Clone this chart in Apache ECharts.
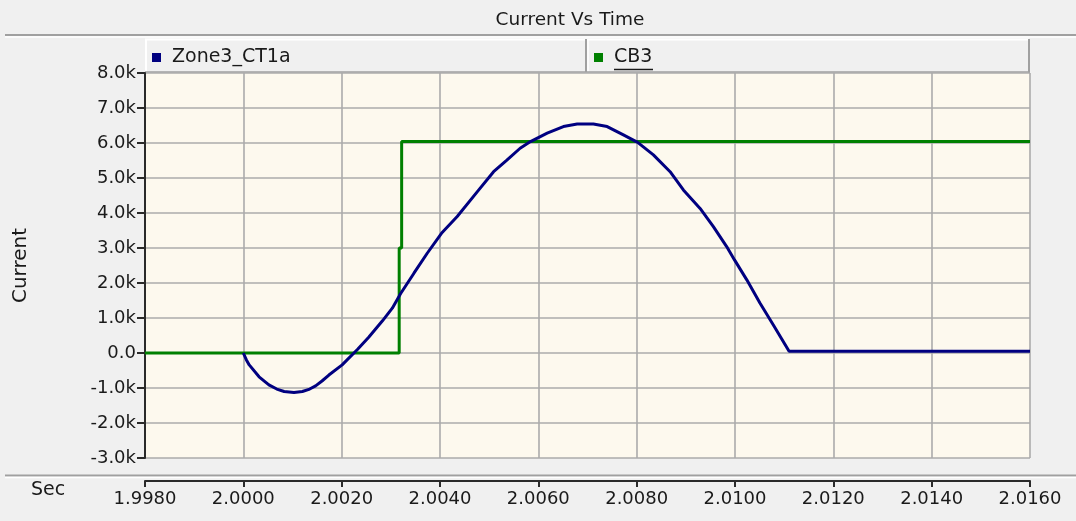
<!DOCTYPE html>
<html>
<head>
<meta charset="utf-8">
<title>Current Vs Time</title>
<script src="https://cdn.jsdelivr.net/npm/echarts@6/dist/echarts.min.js"></script>
<style>
  html, body { margin: 0; padding: 0; background: #F0F0F0; }
  #chart { width: 1076px; height: 521px; }
</style>
</head>
<body>
<div id="chart"></div>
<script>
// Zone3_CT1a current trace (seconds, amps)
const zoneTime = [
  2.0000, 2.00006, 2.00012, 2.00032, 2.00052, 2.00068, 2.00083, 2.00103, 2.0012, 2.00135,
  2.00147, 2.0016, 2.00174, 2.00201, 2.00232, 2.00255, 2.00283, 2.00303, 2.0032, 2.00347,
  2.00374, 2.00403, 2.00435, 2.00476, 2.00509, 2.00536, 2.00563, 2.00584, 2.00618, 2.00651,
  2.00679, 2.00712, 2.0074, 2.00773, 2.00802, 2.00834, 2.00868, 2.00895, 2.00929, 2.00956,
  2.00983, 2.00999, 2.01024, 2.01051, 2.01078, 2.0111, 2.0160
];
const zoneCurrent = [
  0, -190, -340, -680, -910, -1030, -1100, -1130, -1100, -1030,
  -940, -800, -630, -340, 100, 450, 920, 1280, 1700, 2280,
  2850, 3420, 3900, 4610, 5180, 5510, 5850, 6040, 6280, 6470,
  6540, 6540, 6470, 6230, 6020, 5660, 5180, 4660, 4130, 3610,
  3040, 2660, 2090, 1420, 800, 50, 50
];

// CB3 breaker status trace (seconds, value)
const cbTime = [1.9980, 2.00317, 2.00317, 2.00322, 2.00322, 2.0160];
const cbCurrent = [0, 0, 3000, 3000, 6040, 6040];

// Axis ranges and labels
const timeMin = 1.9980, timeMax = 2.0160, timeStep = 0.002;
const currentMin = -3000, currentMax = 8000, currentStep = 1000;
const chartTitle = 'Current Vs Time';
const seriesNames = ['Zone3_CT1a', 'CB3'];
const yAxisName = 'Current';
const xAxisName = 'Sec';

const zip = (xs, ys) => xs.map((x, i) => [x, ys[i]]);

const FONT = 'DejaVu Sans';
const TEXT = '#1a1a1a';
const ETCH_DARK = '#A0A0A0';
const ETCH_LIGHT = '#FFFFFF';

function hLine(x1, x2, y, color, w) {
  return { type: 'line', silent: true, shape: { x1, y1: y, x2, y2: y }, style: { stroke: color, lineWidth: w } };
}
function vLine(x, y1, y2, color, w) {
  return { type: 'line', silent: true, shape: { x1: x, y1, x2: x, y2 }, style: { stroke: color, lineWidth: w } };
}

const chart = echarts.init(document.getElementById('chart'), null, { renderer: 'canvas' });

chart.setOption({
  backgroundColor: '#F0F0F0',
  animation: false,
  title: {
    text: chartTitle,
    left: 565,
    top: 6,
    textAlign: 'center',
    textStyle: { fontFamily: FONT, fontSize: 18.5, fontWeight: 'normal', color: TEXT }
  },
  legend: [
    {
      data: [seriesNames[0]],
      left: 152, top: 48, padding: 0,
      icon: 'rect', itemWidth: 9, itemHeight: 9,
      selectedMode: false,
      textStyle: { fontFamily: FONT, fontSize: 19, color: TEXT, padding: [0, 0, 0, 6] }
    },
    {
      data: [seriesNames[1]],
      left: 594, top: 48, padding: 0,
      icon: 'rect', itemWidth: 9, itemHeight: 9,
      selectedMode: false,
      textStyle: { fontFamily: FONT, fontSize: 19, color: TEXT, padding: [0, 0, 0, 6] }
    }
  ],
  grid: {
    left: 145, right: 46, top: 73, bottom: 63,
    show: true, backgroundColor: '#FDF9EE', borderWidth: 0
  },
  xAxis: {
    type: 'value',
    min: timeMin, max: timeMax, interval: timeStep,
    offset: 23,
    axisLine: { show: true, onZero: false, lineStyle: { color: '#2a2a2a', width: 2 } },
    axisTick: { show: true, length: 6, lineStyle: { color: '#2a2a2a', width: 2 } },
    axisLabel: {
      margin: 9,
      fontFamily: FONT, fontSize: 18, color: TEXT,
      formatter: v => v.toFixed(4)
    },
    splitLine: { show: true, lineStyle: { color: '#ABABAB', width: 1.6 } }
  },
  yAxis: {
    type: 'value',
    min: currentMin, max: currentMax, interval: currentStep,
    name: yAxisName,
    nameLocation: 'middle',
    nameRotate: 90,
    nameGap: 114,
    nameTextStyle: { fontFamily: FONT, fontSize: 20, color: TEXT },
    axisLine: { show: true, onZero: false, lineStyle: { color: '#2a2a2a', width: 2 } },
    axisTick: { show: true, length: 8, lineStyle: { color: '#2a2a2a', width: 2 } },
    axisLabel: {
      margin: 9,
      fontFamily: FONT, fontSize: 18, color: TEXT,
      formatter: v => v === 0 ? '0.0' : (v / 1000).toFixed(1) + 'k'
    },
    splitLine: { show: true, lineStyle: { color: '#ABABAB', width: 1.6 } }
  },
  graphic: [
    // etched separator under the title band
    hLine(5, 1076, 35, ETCH_DARK, 2),
    hLine(5, 1076, 37, ETCH_LIGHT, 1.5),
    // legend cells
    hLine(145, 1029, 39.5, ETCH_LIGHT, 2),
    vLine(146, 39, 72, ETCH_LIGHT, 2),
    vLine(586, 39, 72, ETCH_DARK, 2),
    vLine(588, 39, 72, ETCH_LIGHT, 1.5),
    vLine(1029, 39, 73, ETCH_DARK, 2),
    hLine(145, 1030, 72, ETCH_DARK, 1.5),
    // underline on the CB3 legend entry
    hLine(614, 653, 69.5, '#1a1a1a', 1.5),
    // etched separator above the time axis band
    hLine(5, 1076, 475.5, ETCH_DARK, 2),
    hLine(5, 1076, 477.5, ETCH_LIGHT, 1.5),
    // time axis unit
    {
      type: 'text', silent: true,
      left: 31, top: 481,
      style: { text: xAxisName, fontFamily: FONT, fontSize: 19, fill: TEXT }
    }
  ],
  series: [
    {
      name: seriesNames[1],
      type: 'line',
      data: zip(cbTime, cbCurrent),
      showSymbol: false,
      color: '#008000',
      lineStyle: { color: '#008000', width: 3 },
      z: 2
    },
    {
      name: seriesNames[0],
      type: 'line',
      data: zip(zoneTime, zoneCurrent),
      showSymbol: false,
      color: '#000080',
      lineStyle: { color: '#000080', width: 3 },
      z: 3
    }
  ]
});
</script>
</body>
</html>
